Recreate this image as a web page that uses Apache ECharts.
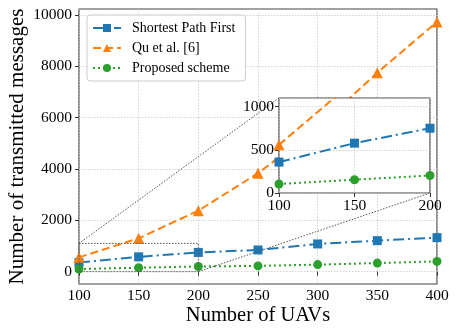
<!DOCTYPE html>
<html>
<head>
<meta charset="UTF-8">
<title>Number of transmitted messages</title>
<script src="https://cdn.jsdelivr.net/npm/echarts@6/dist/echarts.min.js"></script>
<style>
    html, body { margin: 0; padding: 0; background: #fff; }
    #chart { width: 457px; height: 335px; }
</style>
</head>
<body>
<div id="chart"></div>
<script>
// data
var uavs = [100, 150, 200, 250, 300, 350, 400];
var spf = [358, 577, 750, 845, 1080, 1208, 1325];
var qu = [558, 1300, 2376, 3833, 5600, 7752, 9727];
var proposed = [104, 154, 203, 225, 275, 335, 400];
var yTicks = [0, 2000, 4000, 6000, 8000, 10000];
var insetCount = 3; // inset shows 100..200
var zoomX = [100, 200];
var zoomY = [0, 1100];

var serif = 'Liberation Serif';
var c1 = '#1f77b4', c2 = '#ff7f0e', c3 = '#2ca02c';

function pairs(vals, n) {
    var out = [];
    for (var i = 0; i < (n || vals.length); i++) out.push([uavs[i], vals[i]]);
    return out;
}

function plain(v) { return String(v); }

function mkSeries(name, vals, color, symbol, size, dash, idx, n) {
    return {
        name: name,
        type: 'line',
        xAxisIndex: idx,
        yAxisIndex: idx,
        data: pairs(vals, n),
        symbol: symbol,
        symbolSize: size,
        z: idx ? 6 : 2,
        itemStyle: { color: color },
        lineStyle: { color: color, width: 2, type: dash },
        animation: false,
        silent: true
    };
}

function label(extra) {
    var l = { color: '#000', fontFamily: serif, fontSize: 15.5, margin: 4, formatter: plain,
              showMinLabel: true, hideOverlap: false };
    for (var k in extra) l[k] = extra[k];
    return l;
}

function axisBase(extra) {
    var a = {
        type: 'value',
        axisLine: { show: false },
        axisTick: { show: true, inside: false, length: 4, lineStyle: { color: '#333', width: 1 } },
        axisLabel: label({}),
        nameMoveOverlap: false,
        splitLine: { show: true, lineStyle: { color: '#c8c8c8', width: 0.8, type: [1.5, 1.5] } }
    };
    for (var k in extra) a[k] = extra[k];
    return a;
}

var chart = echarts.init(document.getElementById('chart'));

var option = {
    backgroundColor: '#fff',
    animation: false,
    grid: [
        { left: 79, right: 20, top: 9, bottom: 51, show: true, z: 0, containLabel: false,
          outerBoundsMode: 'none',
          backgroundColor: '#fff', borderColor: '#444', borderWidth: 1.2 },
        { left: 279, right: 27, top: 98, bottom: 142, show: true, z: 4, containLabel: false,
          outerBoundsMode: 'none',
          backgroundColor: '#fff', borderColor: '#444', borderWidth: 1.2 }
    ],
    legend: {
        orient: 'vertical',
        left: 87, top: 15,
        padding: [6, 10, 6, 5],
        itemWidth: 28, itemHeight: 10, itemGap: 6,
        backgroundColor: 'rgba(255,255,255,0.85)',
        borderColor: '#ccc', borderWidth: 1, borderRadius: 3,
        z: 10,
        textStyle: { fontFamily: serif, fontSize: 14, color: '#000', padding: [0, 0, 0, 6] },
        data: ['Shortest Path First', 'Qu et al. [6]', 'Proposed scheme']
    },
    xAxis: [
        axisBase({ gridIndex: 0, min: 100, max: 400, interval: 50, z: 1,
            name: 'Number of UAVs', nameLocation: 'middle', nameGap: 21,
            nameTextStyle: { fontFamily: serif, fontSize: 20.5, color: '#000', verticalAlign: 'top' },
            axisLabel: label({}) }),
        axisBase({ gridIndex: 1, min: zoomX[0], max: zoomX[1], interval: 50, z: 5,
            axisLabel: label({ margin: 5 }) })
    ],
    yAxis: [
        axisBase({ gridIndex: 0, min: -480, max: 10230, z: 1,
            name: 'Number of transmitted messages', nameLocation: 'middle', nameGap: 51,
            nameTextStyle: { fontFamily: serif, fontSize: 21, color: '#000' },
            axisTick: { show: true, length: 4, customValues: yTicks, lineStyle: { color: '#333', width: 1 } },
            axisLabel: label({ margin: 7, customValues: yTicks }) }),
        axisBase({ gridIndex: 1, min: zoomY[0], max: zoomY[1], interval: 500, z: 5,
            axisLabel: label({ margin: 5, showMaxLabel: false }) })
    ],
    series: [
        mkSeries('Shortest Path First', spf, c1, 'rect', 9, [11, 4, 2, 4], 0),
        mkSeries('Qu et al. [6]', qu, c2, 'triangle', 11, [8, 4], 0),
        mkSeries('Proposed scheme', proposed, c3, 'circle', 9, [2, 3], 0),
        mkSeries('Shortest Path First', spf, c1, 'rect', 9, [11, 4, 2, 4], 1, insetCount),
        mkSeries('Qu et al. [6]', qu, c2, 'triangle', 11, [8, 4], 1, insetCount),
        mkSeries('Proposed scheme', proposed, c3, 'circle', 9, [2, 3], 1, insetCount)
    ]
};

chart.setOption(option);

// zoom box in the main plot and the two connector lines to the inset
var main = { xAxisIndex: 0, yAxisIndex: 0 };
var ins = { xAxisIndex: 1, yAxisIndex: 1 };
var boxTL = chart.convertToPixel(main, [zoomX[0], zoomY[1]]);
var boxBR = chart.convertToPixel(main, [zoomX[1], zoomY[0]]);
var insTL = chart.convertToPixel(ins, [zoomX[0], zoomY[1]]);
var insBR = chart.convertToPixel(ins, [zoomX[1], zoomY[0]]);
var dotStyle = { stroke: '#555', lineWidth: 1, lineDash: [1.5, 1.5], fill: null };

chart.setOption({
    graphic: [
        { type: 'rect', z: 3, silent: true,
          shape: { x: boxTL[0], y: boxTL[1], width: boxBR[0] - boxTL[0], height: boxBR[1] - boxTL[1] },
          style: dotStyle },
        { type: 'line', z: 3, silent: true,
          shape: { x1: boxTL[0], y1: boxTL[1], x2: insTL[0], y2: insTL[1] }, style: dotStyle },
        { type: 'line', z: 3, silent: true,
          shape: { x1: boxBR[0], y1: boxBR[1], x2: insBR[0], y2: insBR[1] }, style: dotStyle }
    ]
});
</script>
</body>
</html>
